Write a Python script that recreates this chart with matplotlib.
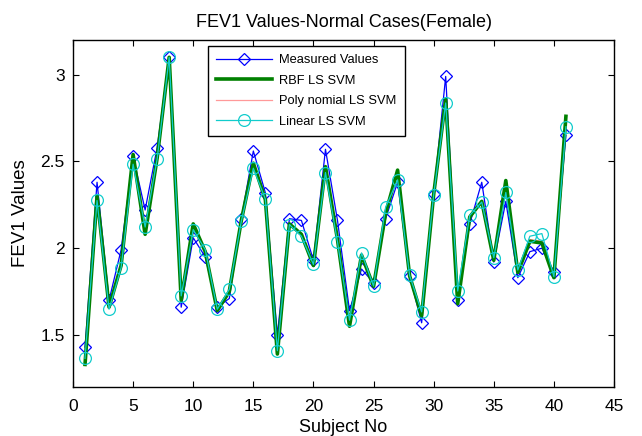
import matplotlib
matplotlib.use('Agg')
import matplotlib.pyplot as plt

plt.rcParams['font.family'] = ['Liberation Sans', 'DejaVu Sans']

# Subject numbers 1..41
subjects = list(range(1, 42))

measured = [1.43, 2.38, 1.70, 1.99, 2.53, 2.22, 2.58, 3.10, 1.66, 2.06,
            1.95, 1.66, 1.71, 2.17, 2.56, 2.32, 1.50, 2.17, 2.16, 1.93,
            2.57, 2.16, 1.64, 1.88, 1.80, 2.17, 2.38, 1.84, 1.57, 2.31,
            2.99, 1.70, 2.14, 2.38, 1.92, 2.27, 1.83, 1.98, 2.00, 1.86,
            2.65]

rbf = [1.33, 2.30, 1.66, 1.90, 2.54, 2.08, 2.52, 3.10, 1.70, 2.14,
       1.98, 1.64, 1.75, 2.16, 2.49, 2.28, 1.39, 2.14, 2.08, 1.90,
       2.47, 2.05, 1.55, 1.96, 1.78, 2.20, 2.45, 1.84, 1.61, 2.31,
       2.86, 1.68, 2.18, 2.27, 1.93, 2.39, 1.86, 2.04, 2.03, 1.83,
       2.76]

polynomial = [1.34, 2.29, 1.66, 1.90, 2.52, 2.09, 2.52, 3.10, 1.70, 2.13,
              1.98, 1.64, 1.75, 2.16, 2.48, 2.28, 1.40, 2.14, 2.08, 1.90,
              2.46, 2.05, 1.56, 1.96, 1.78, 2.21, 2.43, 1.84, 1.62, 2.31,
              2.85, 1.69, 2.18, 2.27, 1.93, 2.37, 1.86, 2.05, 2.04, 1.83,
              2.74]

linear = [1.365, 2.275, 1.648, 1.887, 2.484, 2.122, 2.514, 3.10, 1.725, 2.107,
          1.992, 1.648, 1.763, 2.155, 2.461, 2.283, 1.409, 2.136, 2.069, 1.906,
          2.436, 2.036, 1.585, 1.973, 1.782, 2.235, 2.394, 1.843, 1.633, 2.308,
          2.837, 1.753, 2.189, 2.266, 1.945, 2.321, 1.874, 2.069, 2.084, 1.836,
          2.700]

fig = plt.figure(figsize=(6.42, 4.36), dpi=100)
ax = fig.add_axes([0.1137, 0.1124, 0.8427, 0.7959])

ax.plot(subjects, measured, color='#0000ff', lw=0.9, marker='D', ms=6.5,
        mfc='none', mec='#0000ff', mew=0.9, label='Measured Values', zorder=2)
ax.plot(subjects, rbf, color='#008000', lw=2.6, label='RBF LS SVM', zorder=3)
ax.plot(subjects, polynomial, color='#ff9999', lw=0.9,
        label='Poly nomial LS SVM', zorder=1)
ax.plot(subjects, linear, color='#11cccc', lw=0.9, marker='o', ms=8.5,
        mfc='none', mec='#11cccc', mew=0.9, label='Linear LS SVM', zorder=4)

ax.set_xlim(0, 45)
ax.set_ylim(1.2, 3.2)
ax.set_xticks(range(0, 46, 5))
ax.set_yticks([1.5, 2, 2.5, 3])
ax.set_yticklabels(['1.5', '2', '2.5', '3'])
ax.tick_params(direction='in', top=True, right=True, length=4, width=0.8,
               labelsize=12.5, pad=6)
ax.tick_params(axis='x', pad=8.5)
for s in ax.spines.values():
    s.set_linewidth(1.0)

ax.set_title('FEV1 Values-Normal Cases(Female)', fontsize=13, pad=9)
ax.set_xlabel('Subject No', fontsize=13, labelpad=4)
ax.set_ylabel('FEV1 Values', fontsize=13.5, labelpad=8)

leg = ax.legend(loc='upper left', bbox_to_anchor=(0.2495, 0.983),
                borderaxespad=0, fontsize=9.3, fancybox=False, framealpha=1,
                edgecolor='black', handlelength=4.3, handletextpad=0.55,
                labelspacing=0.65, borderpad=0.65)
leg.get_frame().set_linewidth(1.0)

fig.savefig('out.png', dpi=100)
